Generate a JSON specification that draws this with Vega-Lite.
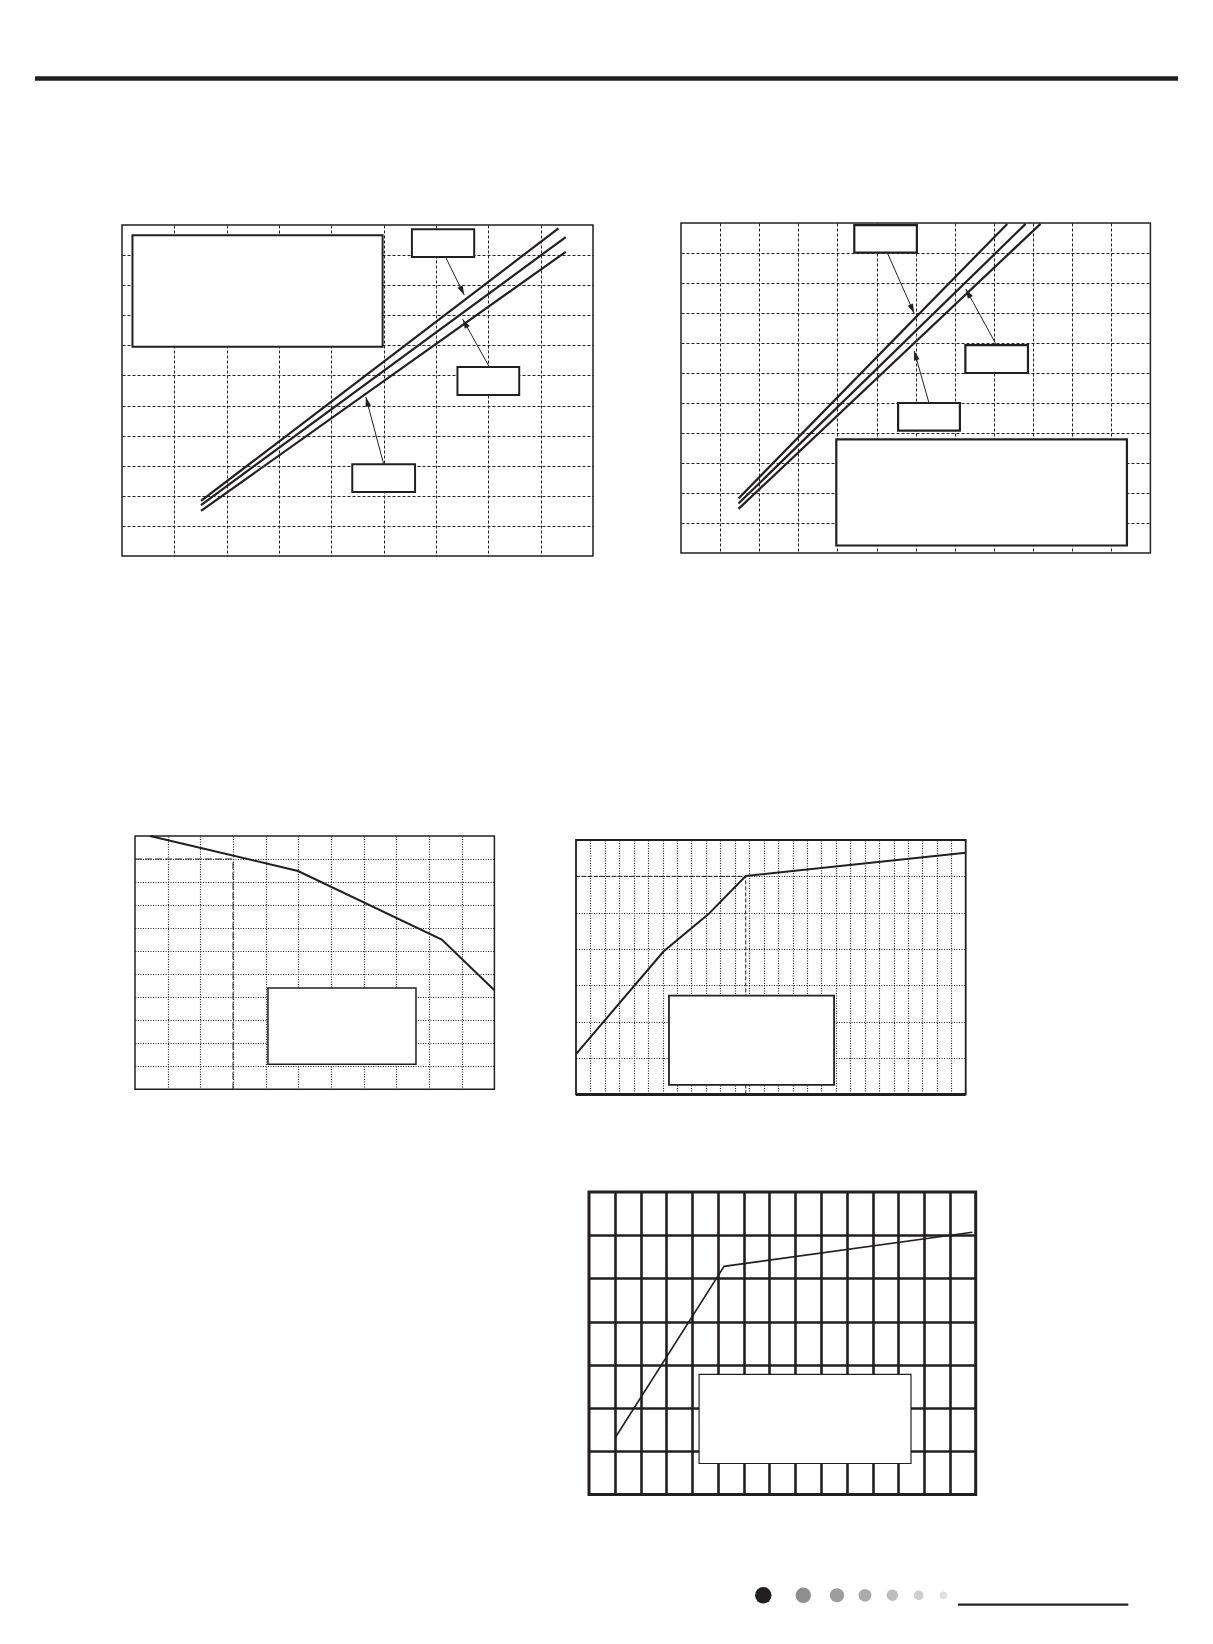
{
  "$schema": "https://vega.github.io/schema/vega-lite/v6.json",
  "background": "white",
  "padding": {"left": 0, "top": 73, "right": 0, "bottom": 0},
  "config": {
    "view": {"stroke": null},
    "axis": {"labels": false, "ticks": false, "domain": false, "minExtent": 0, "maxExtent": 0, "gridColor": "#231f20", "gridOpacity": 1, "gridWidth": 1}
  },
  "datasets": {
    "hdr": [{"x": 0, "x2": 1, "y": 0.5}],
    "p1l": [{"s": "a", "x": 1.51, "y": 1.83}, {"s": "a", "x": 8.34, "y": 10.89}, {"s": "b", "x": 1.51, "y": 1.69}, {"s": "b", "x": 8.48, "y": 10.6}, {"s": "c", "x": 1.51, "y": 1.5}, {"s": "c", "x": 8.48, "y": 10.11}],
    "p1b": [{"k": "legend", "x": 0.2, "x2": 4.98, "y": 6.95, "y2": 10.66}, {"k": "A", "x": 5.54, "x2": 6.73, "y": 9.94, "y2": 10.86}, {"k": "B", "x": 6.41, "x2": 7.59, "y": 5.35, "y2": 6.28}, {"k": "C", "x": 4.4, "x2": 5.6, "y": 2.13, "y2": 3.05}],
    "p1a": [{"a": "A", "x": 6.54, "y": 8.67, "x2": 6.19, "y2": 9.91}, {"a": "B", "x": 6.51, "y": 7.87, "x2": 7.02, "y2": 6.28}, {"a": "C", "x": 4.66, "y": 5.28, "x2": 5.0, "y2": 3.05}],
    "p2l": [{"s": "a", "x": 1.47, "y": 1.82}, {"s": "a", "x": 8.34, "y": 10.97}, {"s": "b", "x": 1.47, "y": 1.65}, {"s": "b", "x": 8.81, "y": 10.97}, {"s": "c", "x": 1.47, "y": 1.47}, {"s": "c", "x": 9.19, "y": 10.97}],
    "p2b": [{"k": "legend", "x": 3.97, "x2": 11.4, "y": 0.25, "y2": 3.79}, {"k": "1", "x": 4.43, "x2": 6.03, "y": 10.01, "y2": 10.93}, {"k": "2", "x": 7.27, "x2": 8.87, "y": 6.0, "y2": 6.93}, {"k": "3", "x": 5.55, "x2": 7.13, "y": 4.08, "y2": 5.0}],
    "p2a": [{"a": "1", "x": 5.96, "y": 7.99, "x2": 5.28, "y2": 9.99}, {"a": "2", "x": 7.28, "y": 8.8, "x2": 8.05, "y2": 6.97}, {"a": "3", "x": 5.96, "y": 6.74, "x2": 6.34, "y2": 5.0}],
    "p3l": [{"x": 0.46, "y": 11.0}, {"x": 4.99, "y": 9.48}, {"x": 9.39, "y": 6.5}, {"x": 11.0, "y": 4.3}],
    "p3r": [{"x": 0, "x2": 3, "y": 10, "y2": 10}, {"x": 3, "x2": 3, "y": 0, "y2": 10}],
    "p3b": [{"x": 4.07, "x2": 8.6, "y": 1.09, "y2": 4.4}],
    "p4l": [{"x": 0, "y": 1.11}, {"x": 6.06, "y": 3.93}, {"x": 9.18, "y": 4.96}, {"x": 11.76, "y": 6.01}, {"x": 27, "y": 6.65}],
    "p4r": [{"x": 0, "x2": 11.76, "y": 6, "y2": 6}, {"x": 11.76, "x2": 11.76, "y": 0, "y2": 6}],
    "p4f": [{"x": 0, "x2": 27, "y": 0}],
    "p4b": [{"x": 6.44, "x2": 17.88, "y": 0.26, "y2": 2.72}],
    "p5l": [{"x": 1.01, "y": 1.31}, {"x": 5.24, "y": 5.28}, {"x": 14.87, "y": 6.07}],
    "p5b": [{"x": 4.27, "x2": 12.49, "y": 0.72, "y2": 2.78}],
    "dots": [{"i": 0, "x": 1.33, "y": 1.67}, {"i": 1, "x": 5.33, "y": 1.67}, {"i": 2, "x": 8.7, "y": 1.67}, {"i": 3, "x": 11.5, "y": 1.67}, {"i": 4, "x": 14.23, "y": 1.67}, {"i": 5, "x": 16.87, "y": 1.67}, {"i": 6, "x": 19.33, "y": 1.67}],
    "ul": [{"x": 20.8, "x2": 37.83, "y": 0.73}]
  },
  "spacing": 0,
  "bounds": "full",
  "vconcat": [
    {
      "spacing": 0, "bounds": "flush",
      "hconcat": [
        {"width": 34.5, "height": 11, "data": {"values": []}, "mark": {"type": "point", "opacity": 0}},
        {
          "width": 1143, "height": 11,
          "data": {"name": "hdr"},
          "mark": {"type": "rule", "color": "#231f20", "strokeWidth": 4.4},
          "encoding": {
            "x": {"field": "x", "type": "quantitative", "scale": {"domain": [0, 1], "nice": false}, "axis": null},
            "x2": {"field": "x2"},
            "y": {"field": "y", "type": "quantitative", "scale": {"domain": [0, 1], "nice": false}, "axis": null}
          }
        }
      ]
    },
    {"width": 1, "height": 137.55, "data": {"values": []}, "mark": {"type": "point", "opacity": 0}},
    {
      "spacing": 0, "bounds": "full",
      "hconcat": [
        {"width": 120.55, "height": 1, "data": {"values": []}, "mark": {"type": "point", "opacity": 0}},
        {
          "spacing": 0, "bounds": "flush",
          "vconcat": [
            {"width": 1, "height": 2, "data": {"values": []}, "mark": {"type": "point", "opacity": 0}},
            {
              "width": 471, "height": 331,
              "view": {"stroke": "#231f20", "strokeWidth": 1.5},
              "encoding": {
                "x": {"field": "x", "type": "quantitative", "scale": {"domain": [0, 9], "nice": false, "zero": false}, "axis": {"values": [1, 2, 3, 4, 5, 6, 7, 8], "grid": true, "gridDash": [3, 2], "title": null}},
                "y": {"field": "y", "type": "quantitative", "scale": {"domain": [0, 11], "nice": false, "zero": false}, "axis": {"values": [1, 2, 3, 4, 5, 6, 7, 8, 9, 10], "grid": true, "gridDash": [3, 2], "title": null}}
              },
              "layer": [
                {"data": {"name": "p1l"}, "mark": {"type": "line", "color": "#231f20", "strokeWidth": 2.2}, "encoding": {"detail": {"field": "s"}}},
                {"data": {"name": "p1a"}, "mark": {"type": "rule", "color": "#231f20", "strokeWidth": 1}, "encoding": {"x2": {"field": "x2"}, "y2": {"field": "y2"}}},
                {"data": {"name": "p1a"}, "transform": [{"filter": {"field": "a", "equal": "A"}}], "mark": {"type": "point", "shape": "M0,0L0.6,2L-0.6,2Z", "filled": true, "opacity": 1, "color": "#231f20", "size": 90, "angle": 153.9}},
                {"data": {"name": "p1a"}, "transform": [{"filter": {"field": "a", "equal": "B"}}], "mark": {"type": "point", "shape": "M0,0L0.6,2L-0.6,2Z", "filled": true, "opacity": 1, "color": "#231f20", "size": 90, "angle": 330.9}},
                {"data": {"name": "p1a"}, "transform": [{"filter": {"field": "a", "equal": "C"}}], "mark": {"type": "point", "shape": "M0,0L0.6,2L-0.6,2Z", "filled": true, "opacity": 1, "color": "#231f20", "size": 90, "angle": 345.3}},
                {"data": {"name": "p1b"}, "mark": {"type": "rect", "fill": "white", "stroke": "#231f20", "strokeWidth": 2}, "encoding": {"x2": {"field": "x2"}, "y2": {"field": "y2"}}}
              ]
            }
          ]
        },
        {"width": 85.5, "height": 1, "data": {"values": []}, "mark": {"type": "point", "opacity": 0}},
        {
          "width": 469.4, "height": 330,
          "view": {"stroke": "#231f20", "strokeWidth": 1.5},
          "encoding": {
            "x": {"field": "x", "type": "quantitative", "scale": {"domain": [0, 12], "nice": false, "zero": false}, "axis": {"values": [1, 2, 3, 4, 5, 6, 7, 8, 9, 10, 11], "grid": true, "gridDash": [3, 2], "title": null}},
            "y": {"field": "y", "type": "quantitative", "scale": {"domain": [0, 11], "nice": false, "zero": false}, "axis": {"values": [1, 2, 3, 4, 5, 6, 7, 8, 9, 10], "grid": true, "gridDash": [3, 2], "title": null}}
          },
          "layer": [
            {"data": {"name": "p2l"}, "mark": {"type": "line", "color": "#231f20", "strokeWidth": 2.2, "clip": true}, "encoding": {"detail": {"field": "s"}}},
            {"data": {"name": "p2a"}, "mark": {"type": "rule", "color": "#231f20", "strokeWidth": 1}, "encoding": {"x2": {"field": "x2"}, "y2": {"field": "y2"}}},
            {"data": {"name": "p2a"}, "transform": [{"filter": {"field": "a", "equal": "1"}}], "mark": {"type": "point", "shape": "M0,0L0.6,2L-0.6,2Z", "filled": true, "opacity": 1, "color": "#231f20", "size": 90, "angle": 156.3}},
            {"data": {"name": "p2a"}, "transform": [{"filter": {"field": "a", "equal": "2"}}], "mark": {"type": "point", "shape": "M0,0L0.6,2L-0.6,2Z", "filled": true, "opacity": 1, "color": "#231f20", "size": 90, "angle": 331.1}},
            {"data": {"name": "p2a"}, "transform": [{"filter": {"field": "a", "equal": "3"}}], "mark": {"type": "point", "shape": "M0,0L0.6,2L-0.6,2Z", "filled": true, "opacity": 1, "color": "#231f20", "size": 90, "angle": 344}},
            {"data": {"name": "p2b"}, "mark": {"type": "rect", "fill": "white", "stroke": "#231f20", "strokeWidth": 2.2}, "encoding": {"x2": {"field": "x2"}, "y2": {"field": "y2"}}}
          ]
        }
      ]
    },
    {"width": 1, "height": 274, "data": {"values": []}, "mark": {"type": "point", "opacity": 0}},
    {
      "spacing": 0, "bounds": "full",
      "hconcat": [
        {"width": 132.55, "height": 1, "data": {"values": []}, "mark": {"type": "point", "opacity": 0}},
        {
          "width": 359.4, "height": 253.3,
          "view": {"stroke": "#231f20", "strokeWidth": 1.5},
          "encoding": {
            "x": {"field": "x", "type": "quantitative", "scale": {"domain": [0, 11], "nice": false, "zero": false}, "axis": {"values": [1, 2, 3, 4, 5, 6, 7, 8, 9, 10], "grid": true, "gridDash": [1, 1.5], "gridWidth": 1.2, "title": null}},
            "y": {"field": "y", "type": "quantitative", "scale": {"domain": [0, 11], "nice": false, "zero": false}, "axis": {"values": [1, 2, 3, 4, 5, 6, 7, 8, 9, 10], "grid": true, "gridDash": [1, 1.5], "gridWidth": 1.2, "title": null}}
          },
          "layer": [
            {"data": {"name": "p3r"}, "mark": {"type": "rule", "color": "#231f20", "strokeWidth": 1, "strokeDash": [7, 3]}, "encoding": {"x2": {"field": "x2"}, "y2": {"field": "y2"}}},
            {"data": {"name": "p3l"}, "mark": {"type": "line", "color": "#231f20", "strokeWidth": 2}},
            {"data": {"name": "p3b"}, "mark": {"type": "rect", "fill": "white", "stroke": "#231f20", "strokeWidth": 1.5}, "encoding": {"x2": {"field": "x2"}, "y2": {"field": "y2"}}}
          ]
        },
        {"width": 70.5, "height": 1, "data": {"values": []}, "mark": {"type": "point", "opacity": 0}},
        {
          "spacing": 0, "bounds": "flush",
          "vconcat": [
            {"width": 1, "height": 3.3, "data": {"values": []}, "mark": {"type": "point", "opacity": 0}},
            {
              "width": 389.7, "height": 254.4,
              "view": {"stroke": "#231f20", "strokeWidth": 1.8},
              "encoding": {
                "x": {"field": "x", "type": "quantitative", "scale": {"domain": [0, 27], "nice": false, "zero": false}, "axis": {"values": [1, 2, 3, 4, 5, 6, 7, 8, 9, 10, 11, 12, 13, 14, 15, 16, 17, 18, 19, 20, 21, 22, 23, 24, 25, 26], "grid": true, "gridDash": [1, 1.5], "gridWidth": 1.2, "title": null}},
                "y": {"field": "y", "type": "quantitative", "scale": {"domain": [0, 7], "nice": false, "zero": false}, "axis": {"values": [1, 2, 3, 4, 5, 6], "grid": true, "gridDash": [1, 1.5], "gridWidth": 1.2, "title": null}}
              },
              "layer": [
                {"data": {"name": "p4r"}, "mark": {"type": "rule", "color": "#231f20", "strokeWidth": 1, "strokeDash": [4, 2]}, "encoding": {"x2": {"field": "x2"}, "y2": {"field": "y2"}}},
                {"data": {"name": "p4f"}, "mark": {"type": "rule", "color": "#231f20", "strokeWidth": 3}, "encoding": {"x2": {"field": "x2"}}},
                {"data": {"name": "p4l"}, "mark": {"type": "line", "color": "#231f20", "strokeWidth": 2}},
                {"data": {"name": "p4b"}, "mark": {"type": "rect", "fill": "white", "stroke": "#231f20", "strokeWidth": 1.8}, "encoding": {"x2": {"field": "x2"}, "y2": {"field": "y2"}}}
              ]
            }
          ]
        }
      ]
    },
    {"width": 1, "height": 92.5, "data": {"values": []}, "mark": {"type": "point", "opacity": 0}},
    {
      "spacing": 0, "bounds": "flush",
      "hconcat": [
        {"width": 588.3, "height": 1, "data": {"values": []}, "mark": {"type": "point", "opacity": 0}},
        {
          "width": 386.7, "height": 302.6,
          "view": {"stroke": "#231f20", "strokeWidth": 3},
          "encoding": {
            "x": {"field": "x", "type": "quantitative", "scale": {"domain": [0, 15], "nice": false, "zero": false}, "axis": {"values": [1, 2, 3, 4, 5, 6, 7, 8, 9, 10, 11, 12, 13, 14], "grid": true, "gridWidth": 2.6, "title": null}},
            "y": {"field": "y", "type": "quantitative", "scale": {"domain": [0, 7], "nice": false, "zero": false}, "axis": {"values": [1, 2, 3, 4, 5, 6], "grid": true, "gridWidth": 2.6, "title": null}}
          },
          "layer": [
            {"data": {"name": "p5l"}, "mark": {"type": "line", "color": "#231f20", "strokeWidth": 1.6}},
            {"data": {"name": "p5b"}, "mark": {"type": "rect", "fill": "white", "stroke": "#231f20", "strokeWidth": 1.2}, "encoding": {"x2": {"field": "x2"}, "y2": {"field": "y2"}}}
          ]
        }
      ]
    },
    {"width": 1, "height": 84.1, "data": {"values": []}, "mark": {"type": "point", "opacity": 0}},
    {
      "spacing": 0, "bounds": "flush",
      "hconcat": [
        {"width": 750, "height": 1, "data": {"values": []}, "mark": {"type": "point", "opacity": 0}},
        {
          "width": 380, "height": 30,
          "encoding": {
            "x": {"field": "x", "type": "quantitative", "scale": {"domain": [0, 38], "nice": false, "zero": false}, "axis": null},
            "y": {"field": "y", "type": "quantitative", "scale": {"domain": [0, 3], "nice": false, "zero": false}, "axis": null}
          },
          "layer": [
            {
              "data": {"name": "dots"},
              "mark": {"type": "point", "shape": "circle", "filled": true, "opacity": 1},
              "encoding": {
                "size": {"field": "i", "type": "quantitative", "scale": {"domain": [0, 6], "range": [272, 58]}, "legend": null},
                "color": {"field": "i", "type": "ordinal", "scale": {"domain": [0, 1, 2, 3, 4, 5, 6], "range": ["#231f20", "#8e8e90", "#9d9d9f", "#ababad", "#bcbcbe", "#cececf", "#e0e0e1"]}, "legend": null}
              }
            },
            {"data": {"name": "ul"}, "mark": {"type": "rule", "color": "#231f20", "strokeWidth": 2.2}, "encoding": {"x2": {"field": "x2"}}}
          ]
        }
      ]
    }
  ]
}
